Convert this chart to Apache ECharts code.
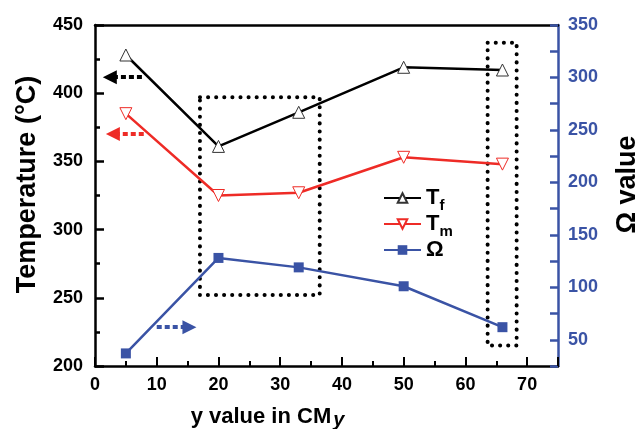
<!DOCTYPE html>
<html>
<head>
<meta charset="utf-8">
<script src="https://cdn.jsdelivr.net/npm/echarts@6/dist/echarts.min.js"></script>
<style>
body { margin: 0; background: #fff; }
#main { width: 641px; height: 429px; }
</style>
</head>
<body>
<div id="main"></div>
<script>
// y value in CMy
var yVals = [5, 20, 33, 50, 66];
var tfVals = [428, 361, 386, 419, 417];
var tmVals = [385, 325, 327, 353, 348];
var omegaVals = [37, 128, 119, 101, 62];

var negro = '#000';
var rojo = '#ee2b26';
var azul = '#3a53a5';
var fuente = 'Liberation Sans';

function pares(ys) {
	return yVals.map(function(x, i) { return [x, ys[i]]; });
}

var myChart = echarts.init(document.getElementById('main'));

var estiloCaja = {
	color: 'rgba(0,0,0,0)',
	borderColor: negro,
	borderWidth: 4,
	borderType: [0.1, 8],
	borderCap: 'round'
};

function flecha(color, desde, hasta, y) {
	return {
		silent: true,
		symbol: ['none', 'triangle'],
		symbolSize: 14,
		label: { show: false },
		lineStyle: { color: color, width: 4, type: [5, 3] },
		data: [[{ coord: [desde, y] }, { coord: [hasta, y] }]]
	};
}

option = {
	animation: false,
	textStyle: { fontFamily: fuente },
	grid: { left: 95, right: 83, top: 25, bottom: 63, outerBoundsMode: 'none', containLabel: false },
	legend: {
		orient: 'vertical',
		left: 378,
		top: 182,
		itemWidth: 37,
		itemHeight: 12,
		itemGap: 0,
		data: ['Tf', 'Tm', 'Ω'],
		formatter: function(name) {
			if (name == 'Tf') return '{t|T}{s|f}';
			if (name == 'Tm') return '{t|T}{s|m}';
			return '{t|Ω}';
		},
		textStyle: {
			rich: {
				t: { fontSize: 22, fontWeight: 'bold', color: negro, fontFamily: fuente, lineHeight: 30, verticalAlign: 'middle' },
				s: { fontSize: 15, fontWeight: 'bold', color: negro, fontFamily: fuente, lineHeight: 14, verticalAlign: 'bottom' }
			}
		}
	},
	xAxis: [
		{
			type: 'value',
			min: 0,
			max: 75,
			interval: 10,
			name: '{a|y value in CM}{s|y}',
			nameLocation: 'middle',
			nameGap: 38,
			nameTextStyle: {
				padding: [0, 118, 0, 0],
				rich: {
					a: { fontSize: 22, fontWeight: 'bold', color: negro, fontFamily: fuente, lineHeight: 26, verticalAlign: 'middle' },
					s: { fontSize: 20, fontWeight: 'bold', fontStyle: 'italic', color: negro, fontFamily: fuente, lineHeight: 20, verticalAlign: 'bottom', padding: [8, 0, 0, 2] }
				}
			},
			axisLine: { onZero: false, lineStyle: { color: negro, width: 2.5 } },
			axisTick: { inside: true, length: 9, lineStyle: { color: negro, width: 2 } },
			minorTick: { show: true, splitNumber: 2, length: 5, lineStyle: { color: negro, width: 2 } },
			axisLabel: { fontSize: 18, fontWeight: 'bold', color: negro, margin: 10, fontFamily: fuente, showMaxLabel: false },
			splitLine: { show: false }
		},
		{
			type: 'value',
			position: 'top',
			min: 0,
			max: 75,
			axisLine: { onZero: false, lineStyle: { color: negro, width: 2.5 } },
			axisTick: { show: false },
			axisLabel: { show: false },
			splitLine: { show: false }
		}
	],
	yAxis: [
		{
			type: 'value',
			min: 200,
			max: 450,
			interval: 50,
			name: 'Temperature (°C)',
			nameLocation: 'middle',
			nameGap: 54,
			nameRotate: 90,
			nameTextStyle: { fontSize: 27, fontWeight: 'bold', color: negro, fontFamily: fuente, padding: [0, 0, 0, 22] },
			axisLine: { onZero: false, lineStyle: { color: negro, width: 2.5 } },
			axisTick: { show: true, inside: true, length: 9, lineStyle: { color: negro, width: 2.5 } },
			minorTick: { show: true, splitNumber: 2, length: 5, lineStyle: { color: negro, width: 2.5 } },
			axisLabel: { fontSize: 18, fontWeight: 'bold', color: negro, margin: 12, fontFamily: fuente },
			splitLine: { show: false }
		},
		{
			type: 'value',
			position: 'right',
			min: 25,
			max: 350,
			interval: 25,
			name: 'Ω value',
			nameLocation: 'middle',
			nameGap: 56,
			nameRotate: 90,
			nameTextStyle: { fontSize: 27, fontWeight: 'bold', color: negro, fontFamily: fuente, padding: [0, 0, 0, 22] },
			axisLine: { onZero: false, lineStyle: { color: azul, width: 2.5 } },
			axisTick: { show: true, inside: true, length: 8, lineStyle: { color: azul, width: 2.5 } },
			axisLabel: {
				fontSize: 18, fontWeight: 'bold', color: azul, margin: 10, fontFamily: fuente,
				formatter: function(v) { return v % 50 == 0 ? String(v) : ''; }
			},
			splitLine: { show: false }
		}
	],
	series: [
		{
			name: 'Tf',
			type: 'line',
			yAxisIndex: 0,
			data: pares(tfVals),
			symbol: 'triangle',
			symbolSize: 12,
			lineStyle: { color: negro, width: 2.5 },
			itemStyle: { color: '#fff', borderColor: '#333', borderWidth: 1 },
			markArea: {
				silent: true,
				itemStyle: estiloCaja,
				data: [
					[{ coord: [17, 397] }, { coord: [36.4, 252] }],
					[{ coord: [63.6, 437] }, { coord: [68.3, 215] }]
				]
			},
			markLine: flecha(negro, 7.6, 2.4, 411.7),
			z: 3
		},
		{
			name: 'Tm',
			type: 'line',
			yAxisIndex: 0,
			data: pares(tmVals),
			symbol: 'triangle',
			symbolRotate: 180,
			symbolSize: 12,
			lineStyle: { color: rojo, width: 2.5 },
			itemStyle: { color: '#fff', borderColor: rojo, borderWidth: 1 },
			markLine: flecha(rojo, 7.9, 2.9, 370),
			z: 3
		},
		{
			name: 'Ω',
			type: 'line',
			yAxisIndex: 1,
			data: pares(omegaVals),
			symbol: 'rect',
			symbolSize: 10,
			lineStyle: { color: azul, width: 2.5 },
			itemStyle: { color: azul },
			markLine: flecha(azul, 10, 15.3, 62),
			z: 3
		}
	]
};

myChart.setOption(option);
</script>
</body>
</html>
